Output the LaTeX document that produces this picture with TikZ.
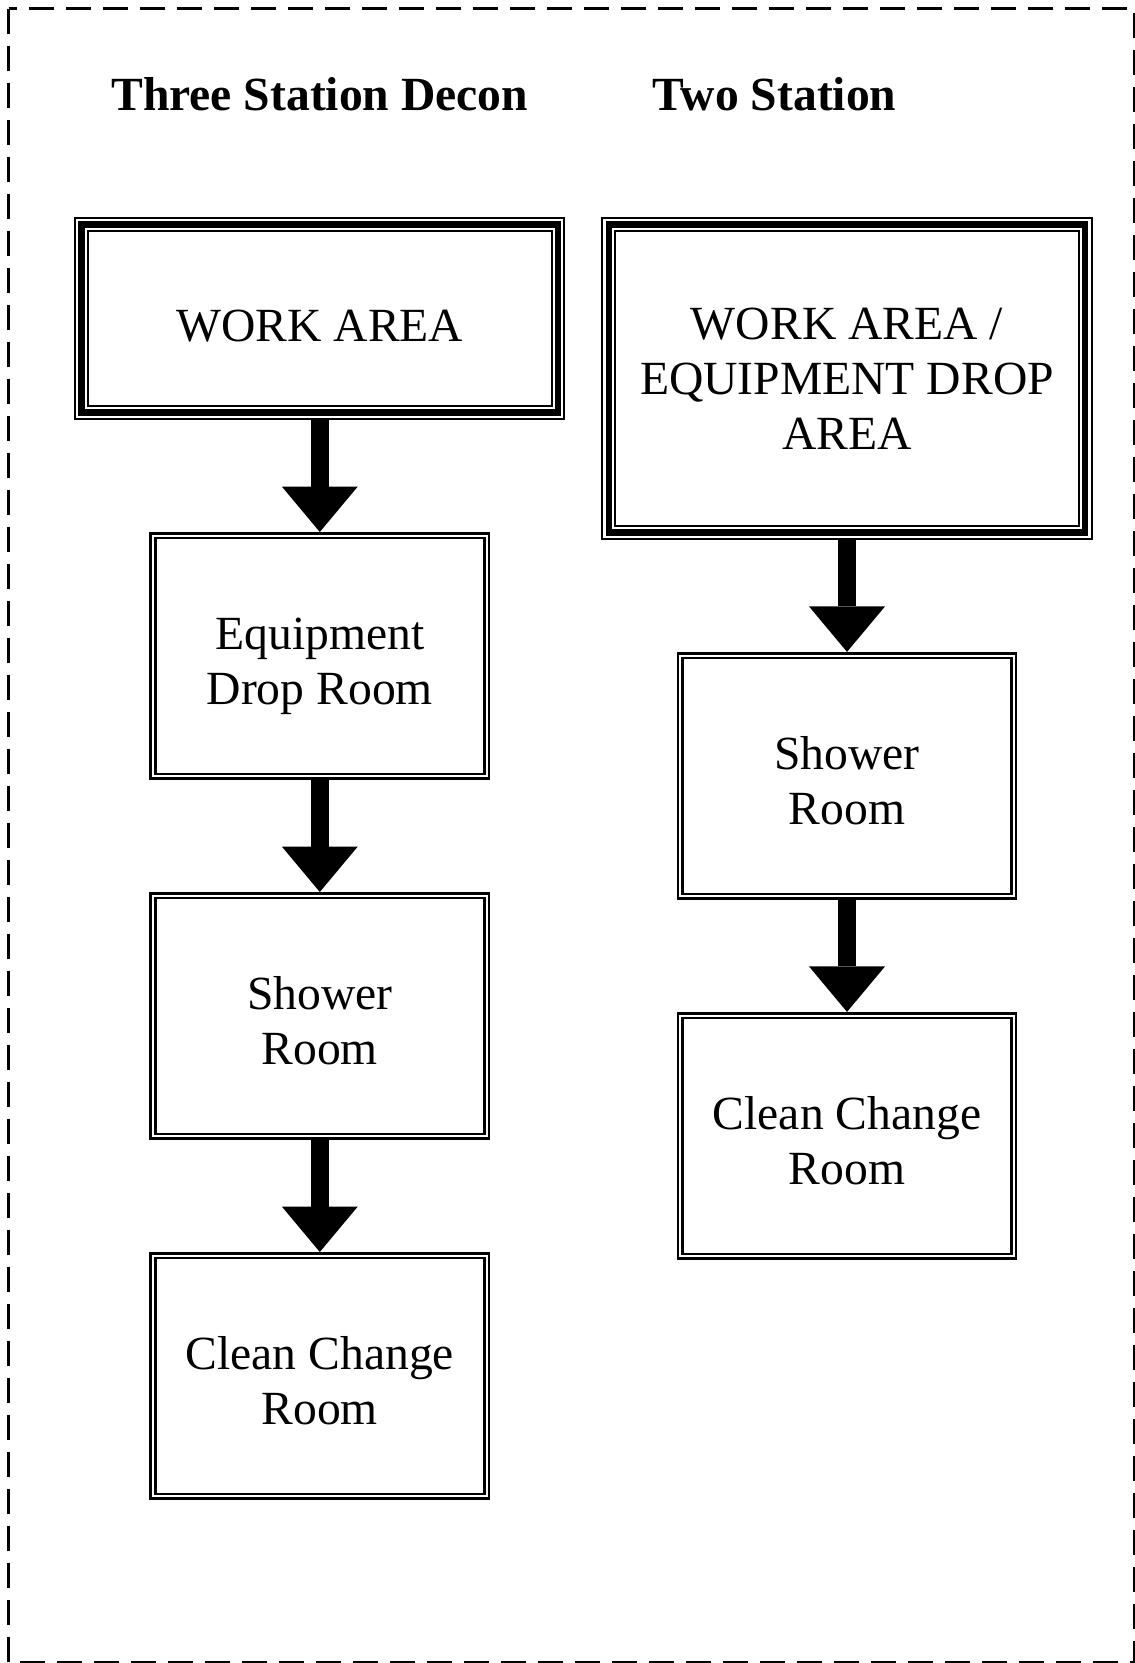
\documentclass[tikz,border=0pt]{standalone}
\usepackage{fontspec}
\setmainfont{Liberation Serif}
\usetikzlibrary{positioning,arrows.meta}

\begin{document}
\begin{tikzpicture}[x=1pt,y=1pt,
					auto,
					node distance=112pt,
					font=\fontsize{47.6}{55}\selectfont,
					room/.style={draw,double,double distance=2.1pt,line width=2.65pt,
						outer sep=3.7pt,inner sep=0pt,minimum width=333.5pt,minimum height=240.6pt,
						text height=97pt,text depth=0pt,align=center},
					work/.style={draw,line width=6.4pt,preaction={draw,line width=14.8pt},
						preaction={draw=white,line width=10.6pt},outer sep=7.4pt,inner sep=0pt,
						minimum width=476.5pt,align=center},
					title/.style={font=\fontsize{47.6}{55}\selectfont\bfseries,inner sep=0pt},
					flow/.style={-{Triangle[width=76pt,length=45.5pt,line width=0pt]},line width=18pt}]

  \useasboundingbox (0,0) rectangle (1135,-1663);
  \draw[line width=3pt,dash pattern=on 25pt off 12pt] (8.5,-8.5) rectangle (1134,-1662);

  % three station
  \node[work,minimum height=188.2pt,text height=46pt,text depth=0pt] (wa3) at (319.8,-318.5) {WORK AREA};
  \node[room] (edr3) [below=of wa3] {Equipment\\Drop Room};
  \node[room] (shw3) [below=of edr3] {Shower\\Room};
  \node[room] (ccr3) [below=of shw3] {Clean Change\\Room};
  \node[title] (t3) [above=106pt of wa3] {Three Station Decon};

  % two station
  \node[work,minimum height=308pt] (wa2) at (847,-378.5) {WORK AREA /\\EQUIPMENT DROP\\AREA};
  \node[room] (shw2) [below=of wa2] {Shower\\Room};
  \node[room] (ccr2) [below=of shw2] {Clean Change\\Room};
  \node[title] (t2) [right=124pt of t3] {Two Station};

  \path[flow] (wa3) edge (edr3)
     (edr3) edge (shw3)
     (shw3) edge (ccr3)
     (wa2) edge (shw2)
     (shw2) edge (ccr2);
\end{tikzpicture}
\end{document}
